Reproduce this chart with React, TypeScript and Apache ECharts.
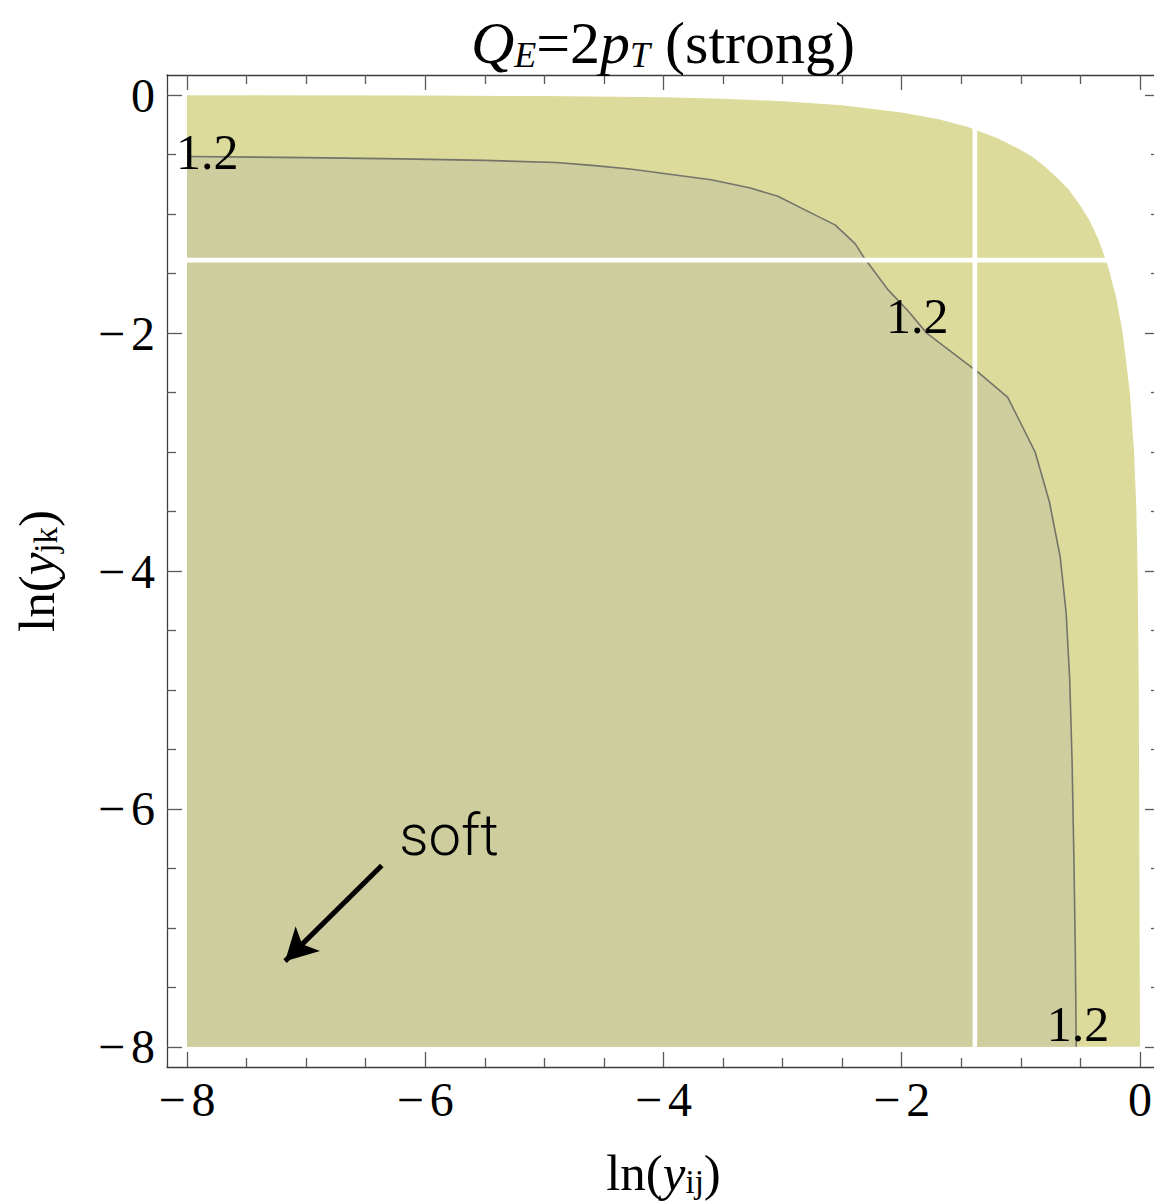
import React, { useEffect, useRef } from "react";
import * as echarts from "echarts";

// Tick positions (major ticks carry labels, minor ticks every 0.5)
const xMajorTicks = [-8, -6, -4, -2, 0];
const xMinorTicks = [-7.5, -7, -6.5, -5.5, -5, -4.5, -3.5, -3, -2.5, -1.5, -1, -0.5];
const yMajorTicks = [-8, -6, -4, -2, 0];
const yMinorTicks = [-7.5, -7, -6.5, -5.5, -5, -4.5, -3.5, -3, -2.5, -1.5, -1, -0.5];

// Edge of the allowed phase-space region
const boundaryX = [-8, -6, -5, -4, -3.5, -3, -2.5, -2, -1.7, -1.45, -1.2, -1, -0.9, -0.8, -0.7, -0.6, -0.5, -0.42, -0.35, -0.3, -0.265, -0.2, -0.145, -0.085, -0.05, -0.03, -0.02, -0.01, 0];
const boundaryY = [0, -0.003, -0.007, -0.018, -0.03, -0.05, -0.085, -0.145, -0.2, -0.265, -0.36, -0.46, -0.52, -0.6, -0.69, -0.79, -0.93, -1.06, -1.21, -1.35, -1.45, -1.7, -2, -2.5, -3, -3.5, -4, -5, -8];

// The 1.2 contour
const contourX = [-8, -7, -6.2, -5.5, -4.9, -4.6, -4.28, -3.6, -3.27, -3.04, -2.8, -2.56, -2.39, -2.32, -2.12, -1.95, -1.79, -1.41, -1.37, -1.31, -1.11, -1.0, -0.88, -0.76, -0.67, -0.62, -0.59, -0.57, -0.555, -0.543, -0.535];
const contourY = [-0.515, -0.525, -0.535, -0.548, -0.566, -0.59, -0.62, -0.71, -0.78, -0.85, -0.97, -1.09, -1.25, -1.36, -1.63, -1.81, -2.0, -2.29, -2.32, -2.37, -2.54, -2.76, -3.0, -3.42, -3.88, -4.35, -4.91, -5.6, -6.4, -7.2, -8];

// Contour level and where its labels sit
const contourLevel = 1.2;
const contourLabelX = [-7.83, -1.87, -0.52];
const contourLabelY = [-0.48, -1.86, -7.81];

// Cuts at ln(1/4) in both variables
const cutValue = -1.386;

// "soft" annotation: text anchor and arrow (start -> tip)
const softText = "soft";
const softX = -5.8;
const softY = -6.22;
const arrowFrom = [-6.365, -6.476];
const arrowTo = [-7.177, -7.28];

const SERIF = '"Liberation Serif", "Times New Roman", serif';

const zip = (xs: number[], ys: number[]) => xs.map((x, i) => [x, ys[i]]);

// Negative tick labels get a spaced minus sign
const tickLabel = (v: number) => (v === 0 ? "{d|0}" : "{m|\u2212}{d|" + Math.abs(v) + "}");
const tickRich = {
  m: { fontFamily: SERIF, fontSize: 48, color: "#000", padding: [0, 6, 0, 0] },
  d: { fontFamily: SERIF, fontSize: 48, color: "#000" },
};

const FRAME = "#3c3c3c";
const TICK = "#5a5a5a";

function makeAxis(
  position: string,
  ticks: number[],
  tickLen: number,
  withLabel: boolean,
  withLine: boolean,
  min: number,
  max: number,
  extra: any = {}
) {
  return {
    type: "value",
    position,
    min,
    max,
    gridIndex: 0,
    axisLine: { show: withLine, onZero: false, lineStyle: { color: FRAME, width: 1.3 } },
    axisTick: {
      show: true,
      inside: true,
      length: tickLen,
      customValues: ticks,
      lineStyle: { color: TICK, width: 1.3 },
    },
    axisLabel: withLabel
      ? {
          show: true,
          customValues: ticks,
          formatter: tickLabel,
          rich: tickRich,
          fontFamily: SERIF,
          fontSize: 48,
          color: "#000",
          margin: position === "bottom" ? 8 : 12,
        }
      : { show: false },
    splitLine: { show: false },
    ...extra,
  };
}

export default function App() {
  const ref = useRef<HTMLDivElement>(null);

  useEffect(() => {
    if (!ref.current) return;
    const chart = echarts.init(ref.current, undefined, { renderer: "svg" });

    const xMin = -8.168, xMax = 0.168;
    const yMin = -8.17, yMax = 0.17;

    const subRich = {
      rm: { fontFamily: SERIF, fontSize: 51, color: "#000" },
      it: { fontFamily: SERIF, fontSize: 51, fontStyle: "italic", color: "#000" },
      sub: { fontFamily: SERIF, fontSize: 33, color: "#000", verticalAlign: "bottom", lineHeight: 35 },
    };

    const option: any = {
      animation: false,
      backgroundColor: "#fff",
      grid: { left: 167, top: 75, right: 10, bottom: 136, containLabel: false },
      xAxis: [
        makeAxis("bottom", xMajorTicks, 15, true, true, xMin, xMax, {
          name: "{rm|ln(}{it|y}{sub|ij}{rm|)}",
          nameLocation: "middle",
          nameGap: 80,
          nameTextStyle: { rich: subRich },
        }),
        makeAxis("bottom", xMinorTicks, 9, false, false, xMin, xMax),
        makeAxis("top", xMajorTicks, 15, false, true, xMin, xMax),
        makeAxis("top", xMinorTicks, 9, false, false, xMin, xMax),
      ],
      yAxis: [
        makeAxis("left", yMajorTicks, 15, true, true, yMin, yMax, {
          name: "{rm|ln(}{it|y}{sub|jk}{rm|)}",
          nameLocation: "middle",
          nameGap: 105,
          nameTextStyle: { rich: subRich },
        }),
        makeAxis("left", yMinorTicks, 9, false, false, yMin, yMax),
        makeAxis("right", yMajorTicks, 15, false, true, yMin, yMax),
        makeAxis("right", yMinorTicks, 9, false, false, yMin, yMax),
      ],
      graphic: [
        {
          type: "text",
          x: 663,
          y: 43,
          z: 10,
          style: {
            text: "{it|Q}{sub|E}{rm|=2}{it|p}{sub|T}{rm| (strong)}",
            align: "center",
            verticalAlign: "middle",
            rich: {
              rm: { fontFamily: SERIF, fontSize: 60, color: "#000" },
              it: { fontFamily: SERIF, fontSize: 60, fontStyle: "italic", color: "#000" },
              sub: { fontFamily: SERIF, fontSize: 36, fontStyle: "italic", color: "#000", verticalAlign: "bottom", lineHeight: 40 },
            },
          },
        },
      ],
      series: [
        {
          name: "region",
          type: "line",
          xAxisIndex: 0,
          yAxisIndex: 0,
          data: zip(boundaryX, boundaryY),
          symbol: "none",
          lineStyle: { width: 0 },
          areaStyle: { color: "#dcdb9b", opacity: 1, origin: -8 },
          z: 1,
          silent: true,
        },
        {
          name: "contour",
          type: "line",
          xAxisIndex: 0,
          yAxisIndex: 0,
          data: zip(contourX, contourY),
          symbol: "none",
          lineStyle: { width: 1.6, color: "#74746a" },
          areaStyle: { color: "#cdcd9d", opacity: 1, origin: -8 },
          z: 2,
          silent: true,
        },
        {
          name: "cutX",
          type: "line",
          data: [
            [cutValue, 0],
            [cutValue, -8],
          ],
          symbol: "none",
          lineStyle: { width: 4.6, color: "#ffffff" },
          z: 3,
          silent: true,
        },
        {
          name: "cutY",
          type: "line",
          data: [
            [-8, cutValue],
            [0, cutValue],
          ],
          symbol: "none",
          lineStyle: { width: 4.6, color: "#ffffff" },
          z: 3,
          silent: true,
        },
        {
          name: "labels",
          type: "scatter",
          symbolSize: 0,
          itemStyle: { color: "#000", opacity: 1 },
          data: zip(contourLabelX, contourLabelY),
          label: {
            show: true,
            position: "inside",
            formatter: () => String(contourLevel),
            fontFamily: SERIF,
            fontSize: 50,
            color: "#000",
            opacity: 1,
            textBorderWidth: 0,
            textBorderColor: "transparent",
          },
          z: 5,
          silent: true,
          markLine: {
            silent: true,
            symbol: ["none", "arrow"],
            symbolSize: [26, 32],
            label: { show: false },
            lineStyle: { color: "#000", width: 5, type: "solid", opacity: 1 },
            data: [[{ coord: arrowFrom }, { coord: arrowTo }]],
          },
        },
        {
          name: "soft",
          type: "scatter",
          symbolSize: 0,
          itemStyle: { color: "#000", opacity: 1 },
          data: [[softX, softY]],
          label: {
            show: true,
            position: "inside",
            formatter: () => softText,
            fontFamily: "Roboto, 'Open Sans', sans-serif",
            fontWeight: 300,
            fontSize: 58,
            color: "#000",
            opacity: 1,
            textBorderWidth: 0,
            textBorderColor: "transparent",
          },
          z: 5,
          silent: true,
        },
      ],
    };

    chart.setOption(option);
    return () => chart.dispose();
  }, []);

  return (
    <div style={{ position: "absolute", left: 0, top: 0, width: 1154, height: 1203, overflow: "hidden" }}>
      <div ref={ref} style={{ width: 1170, height: 1203 }} />
    </div>
  );
}
